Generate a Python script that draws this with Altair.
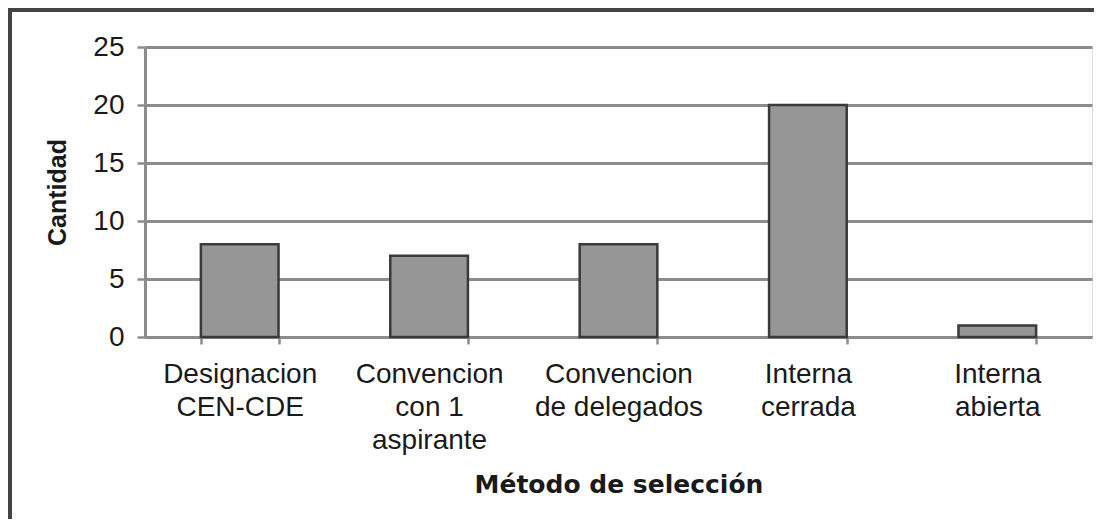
import altair as alt
import pandas as pd

categories = [
    "Designacion\nCEN-CDE",
    "Convencion\ncon 1\naspirante",
    "Convencion\nde delegados",
    "Interna\ncerrada",
    "Interna\nabierta",
]
values = [8, 7, 8, 20, 1]
y_ticks = [0, 5, 10, 15, 20, 25]

df = pd.DataFrame({"metodo": categories, "cantidad": values})

W, H = 947, 290
PAD_L, PAD_T, PAD_R, PAD_B = 137, 39, 2, 182

GRAY = "#8c8c8c"
TEXT = "#1a1a1a"

bars = alt.Chart(df).mark_bar(
    fill="#969696", stroke="#3a3a3a", strokeWidth=2.5
).encode(
    x=alt.X(
        "metodo:N",
        sort=categories,
        scale=alt.Scale(paddingInner=0.59, paddingOuter=0.295),
        axis=alt.Axis(
            title="Método de selección",
            labelExpr="split(datum.label, '\\n')",
            labelAngle=0,
            labelFont="Liberation Sans",
            labelFontSize=28,
            labelLineHeight=33,
            labelColor=TEXT,
            labelPadding=16,
            labelBaseline="top",
            tickBand="extent",
            tickSize=7,
            tickColor=GRAY,
            tickWidth=2.5,
            domainColor=GRAY,
            domainWidth=3,
            grid=False,
            titleFont="DejaVu Sans",
            titleFontSize=25,
            titleFontWeight="bold",
            titleColor=TEXT,
            titleX=W / 2,
            titleY=147,
            titleBaseline="middle",
            titleAlign="center",
        ),
    ),
    y=alt.Y(
        "cantidad:Q",
        scale=alt.Scale(domain=[0, 25], nice=False),
        axis=alt.Axis(
            title="Cantidad",
            values=y_ticks,
            labelFont="Liberation Sans",
            labelFontSize=28,
            labelColor=TEXT,
            labelPadding=13,
            tickSize=8,
            tickColor=GRAY,
            tickWidth=2.5,
            domainColor=GRAY,
            domainWidth=3,
            grid=True,
            gridColor=GRAY,
            gridWidth=3,
            titleFont="Liberation Sans",
            titleFontSize=25,
            titleFontWeight="bold",
            titleColor=TEXT,
            titleAngle=270,
            titleX=-88,
            titleY=H / 2,
            titleBaseline="middle",
            titleAlign="center",
        ),
    ),
)

frame_data = alt.Data(values=[{"k": 1}])
left_frame = alt.Chart(frame_data).mark_rule(color="#444444", strokeWidth=4).encode(
    x=alt.value(-PAD_L + 2), y=alt.value(-PAD_T), y2=alt.value(H + PAD_B)
)
top_frame = alt.Chart(frame_data).mark_rule(color="#444444", strokeWidth=4).encode(
    x=alt.value(-PAD_L), x2=alt.value(W + PAD_R), y=alt.value(-PAD_T + 2)
)

chart = alt.layer(bars, left_frame, top_frame).properties(
    width=W,
    height=H,
    padding={"left": PAD_L, "top": PAD_T, "right": PAD_R, "bottom": PAD_B},
    autosize=alt.AutoSizeParams(type="none"),
).configure_view(stroke=None).configure(background="white")

chart.save("out.html", embed_options={"renderer": "svg", "actions": False})
